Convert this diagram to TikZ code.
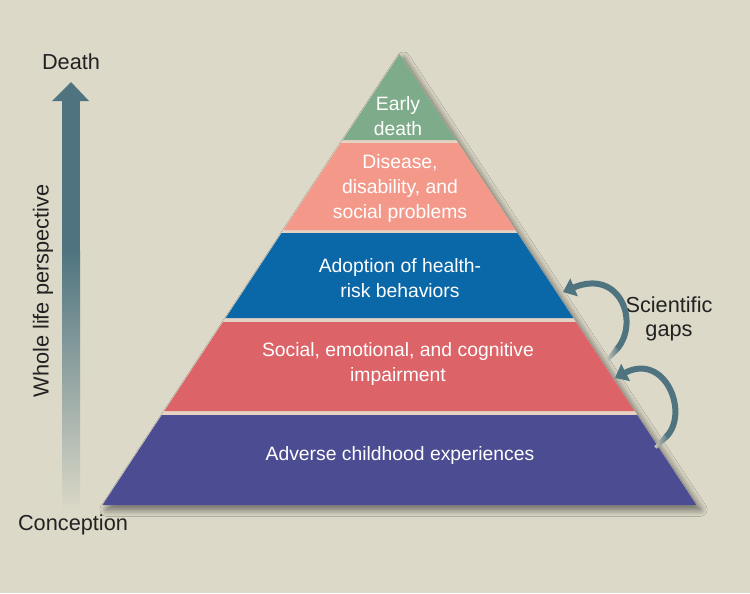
\documentclass[tikz,border=0pt]{standalone}
\usepackage{fontspec}
\setmainfont{Liberation Sans}
\usepackage{xcolor}
\usepackage{tikz}
\usetikzlibrary{arrows.meta, positioning, calc, shadows.blur}

\definecolor{bgc}{HTML}{DCD9C8}
\definecolor{gapc}{HTML}{E4D2C4}
\definecolor{tierGreen}{HTML}{7EAB8A}
\definecolor{tierSalmon}{HTML}{F4998A}
\definecolor{tierBlue}{HTML}{0A67A8}
\definecolor{tierRed}{HTML}{DC6468}
\definecolor{tierPurple}{HTML}{4C4C92}
\definecolor{arrowc}{HTML}{4F7480}
\definecolor{inkc}{HTML}{222222}

\begin{document}
\begin{tikzpicture}[x=0.75pt, y=-0.75pt,
  tiertext/.style={white, align=center, font=\fontsize{14.5}{18.75}\selectfont},
  outtext/.style={inkc, align=center, font=\fontsize{16.3}{17.5}\selectfont},
  gaparrow/.style={draw=arrowc, line width=4.5pt, -{Triangle[width=14pt, length=9pt]}},
  gaptail/.style={left color=bgc!92!black, right color=arrowc}]
  % canvas 750 x 593 px, y downwards
  \fill[bgc] (0,0) rectangle (750,593);
  \useasboundingbox (0,0) rectangle (750,593);
  % pyramid: apex (399.5,54), base y=505, slope 0.6585
  \coordinate (apex) at (399.5,54);
  \coordinate (baseL) at (102.5,505);
  \coordinate (baseR) at (696.5,505);
  \fill[gapc, blur shadow={shadow xshift=3pt, shadow yshift=-3.5pt, shadow blur radius=5pt,
      shadow blur steps=12, shadow opacity=55}]
    (apex) -- (baseR) -- (baseL) -- cycle;
  % tiers: top / bottom / colour
  \foreach \t/\b/\c in {54/140/tierGreen, 143/230/tierSalmon, 233/318/tierBlue,
                        322/411/tierRed, 415/505/tierPurple} {
    \fill[\c] ({399.5-0.6585*(\t-54)},\t) -- ({399.5+0.6585*(\t-54)},\t)
      -- ({399.5+0.6585*(\b-54)},\b) -- ({399.5-0.6585*(\b-54)},\b) -- cycle;
  }
  % tier labels
  \node[tiertext] (early) at (398,116) {Early\\death};
  \node[tiertext] (disease) at (400,188) {Disease,\\disability, and\\social problems};
  \node[tiertext] (adoption) at (400,278) {Adoption of health-\\risk behaviors};
  \node[tiertext] (impair) at (398,364) {Social, emotional, and cognitive\\impairment};
  \node[tiertext] (adverse) at (400,455) {Adverse childhood experiences};
  % whole life arrow
  \fill[arrowc] (62,100) rectangle (80,251);
  \shade[top color=arrowc, middle color=arrowc!78!bgc, bottom color=bgc] (62,250) rectangle (80,512);
  \fill[arrowc] (52,101) -- (71,82) -- (89,101) -- cycle;
  \node[outtext] (death) at (71,62) {Death};
  \node[outtext] (conception) at (73,525) {Conception};
  \node[outtext, rotate=90] (whole) at (43,291) {Whole life perspective};
  % scientific gaps
  \node[outtext] (gaps) at (669,319) {Scientific\\gaps};
  \coordinate (gapA1) at (617,349);
  \coordinate (gapA2) at (563,292);
  \coordinate (gapB1) at (666,437);
  \coordinate (gapB2) at (615,378);
  \draw[gaparrow] (gapA1) .. controls (640,322) and (620,268) .. (gapA2);
  \draw[gaparrow] (gapB1) .. controls (690,413) and (665,352) .. (gapB2);
  % faded tails
  \begin{scope}[shift={(gapA1)}, rotate=49.5]
    \shade[gaptail] (-15,-1.6) -- (0.5,-3) -- (0.5,3) -- (-15,1.6) -- cycle;
  \end{scope}
  \begin{scope}[shift={(gapB1)}, rotate=45]
    \shade[gaptail] (-15,-1.6) -- (0.5,-3) -- (0.5,3) -- (-15,1.6) -- cycle;
  \end{scope}
\end{tikzpicture}
\end{document}
